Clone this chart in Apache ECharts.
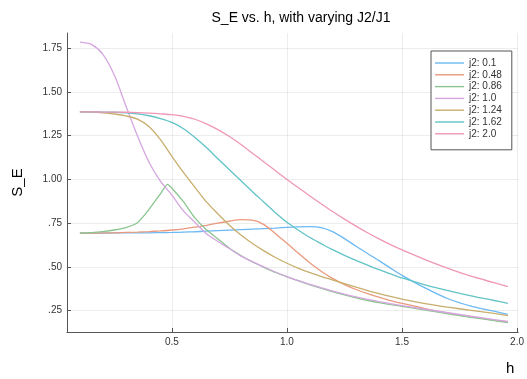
<!DOCTYPE html>
<html>
<head>
<meta charset="utf-8">
<script src="https://cdn.jsdelivr.net/npm/echarts@6/dist/echarts.min.js"></script>
<style>
  html, body { margin: 0; padding: 0; background: #fff; }
  #chart { width: 527px; height: 379px; }
</style>
</head>
<body>
<div id="chart"></div>
<script>
// Field values h at which the entropy was evaluated
const hValues = [0.1, 0.15, 0.2, 0.25, 0.3, 0.35, 0.4, 0.45, 0.5, 0.55, 0.6, 0.65, 0.7, 0.75,
  0.8, 0.85, 0.9, 0.95, 1.0, 1.05, 1.1, 1.15, 1.2, 1.25, 1.3, 1.35, 1.4, 1.45, 1.5,
  1.6, 1.7, 1.8, 1.9, 1.96];
// The j2 = 0.86 curve has an extra sample at its cusp
const hValuesJ2_086 = [0.1, 0.15, 0.2, 0.25, 0.3, 0.35, 0.4, 0.45, 0.48, 0.5, 0.55, 0.6, 0.65, 0.7, 0.75,
  0.8, 0.85, 0.9, 0.95, 1.0, 1.05, 1.1, 1.15, 1.2, 1.25, 1.3, 1.35, 1.4, 1.45, 1.5,
  1.6, 1.7, 1.8, 1.9, 1.96];

// S_E for each J2/J1 ratio
const sJ2_010 = [0.693, 0.693, 0.693, 0.694, 0.694, 0.695, 0.695, 0.696, 0.697, 0.699, 0.701, 0.704, 0.707, 0.710,
  0.713, 0.716, 0.719, 0.722, 0.726, 0.729, 0.730, 0.724, 0.700, 0.662, 0.618, 0.577, 0.536, 0.493, 0.452,
  0.380, 0.318, 0.276, 0.247, 0.229];
const sJ2_048 = [0.693, 0.693, 0.694, 0.695, 0.697, 0.699, 0.702, 0.706, 0.711, 0.718, 0.727, 0.738, 0.750, 0.761,
  0.770, 0.767, 0.742, 0.690, 0.635, 0.578, 0.522, 0.474, 0.433, 0.399, 0.371, 0.347, 0.327, 0.308, 0.292,
  0.262, 0.236, 0.214, 0.196, 0.186];
const sJ2_086 = [0.693, 0.696, 0.702, 0.711, 0.725, 0.753, 0.828, 0.918, 0.972, 0.950, 0.873, 0.780, 0.712, 0.660, 0.607,
  0.565, 0.528, 0.497, 0.468, 0.443, 0.420, 0.398, 0.378, 0.358, 0.340, 0.323, 0.308, 0.296, 0.285, 0.275,
  0.253, 0.232, 0.212, 0.193, 0.182];
const sJ2_100 = [1.785, 1.772, 1.715, 1.595, 1.420, 1.250, 1.100, 0.990, 0.910, 0.820, 0.755, 0.690, 0.645, 0.605,
  0.562, 0.530, 0.500, 0.471, 0.445, 0.421, 0.400, 0.380, 0.362, 0.345, 0.329, 0.315, 0.302, 0.290, 0.279,
  0.258, 0.238, 0.218, 0.199, 0.188];
const sJ2_124 = [1.386, 1.385, 1.381, 1.374, 1.363, 1.345, 1.303, 1.228, 1.132, 1.040, 0.955, 0.872, 0.803, 0.738,
  0.682, 0.634, 0.592, 0.554, 0.521, 0.492, 0.467, 0.445, 0.425, 0.405, 0.385, 0.365, 0.347, 0.331, 0.316,
  0.290, 0.270, 0.252, 0.234, 0.222];
const sJ2_162 = [1.386, 1.386, 1.385, 1.384, 1.381, 1.375, 1.364, 1.348, 1.326, 1.290, 1.240, 1.182, 1.118, 1.055,
  0.992, 0.930, 0.870, 0.810, 0.755, 0.710, 0.668, 0.632, 0.597, 0.566, 0.537, 0.510, 0.484, 0.460, 0.437,
  0.398, 0.365, 0.335, 0.308, 0.292];
const sJ2_200 = [1.386, 1.386, 1.385, 1.385, 1.384, 1.382, 1.379, 1.375, 1.370, 1.360, 1.344, 1.318, 1.285, 1.245,
  1.200, 1.150, 1.100, 1.050, 1.000, 0.952, 0.905, 0.860, 0.815, 0.773, 0.733, 0.695, 0.660, 0.627, 0.597,
  0.542, 0.492, 0.447, 0.410, 0.388];

const seriesNames = ['j2: 0.1', 'j2: 0.48', 'j2: 0.86', 'j2: 1.0', 'j2: 1.24', 'j2: 1.62', 'j2: 2.0'];
const seriesValues = [sJ2_010, sJ2_048, sJ2_086, sJ2_100, sJ2_124, sJ2_162, sJ2_200];
const seriesH = [hValues, hValues, hValuesJ2_086, hValues, hValues, hValues, hValues];
const seriesColors = ['#6cb9f3', '#e99a7e', '#8ac58f', '#d6a6e1', '#c8ae6c', '#62c3c6', '#ef97b6'];

// Axis ticks and their printed labels
const xTicks = [0.5, 1.0, 1.5, 2.0];
const xTickLabels = ['0.5', '1.0', '1.5', '2.0'];
const yTicks = [0.25, 0.5, 0.75, 1.0, 1.25, 1.5, 1.75];
const yTickLabels = ['.25', '.50', '.75', '1.00', '1.25', '1.50', '1.75'];

const chart = echarts.init(document.getElementById('chart'), null, { renderer: 'canvas' });

const font = 'Liberation Sans, Arial, Helvetica, sans-serif';

const series = seriesNames.map((name, i) => ({
  name: name,
  type: 'line',
  data: seriesH[i].map((h, k) => [h, seriesValues[i][k]]),
  showSymbol: false,
  symbol: 'none',
  smooth: i === 2 ? 0.15 : 0.3,
  lineStyle: { width: 1.3, color: seriesColors[i] },
  itemStyle: { color: seriesColors[i] },
  emphasis: { disabled: true },
  animation: false
}));

chart.setOption({
  animation: false,
  backgroundColor: '#ffffff',
  title: {
    text: 'S_E vs. h, with varying J2/J1',
    left: 296,
    textAlign: 'center',
    top: 6,
    textStyle: { fontFamily: font, fontSize: 14, fontWeight: 'normal', color: '#000' }
  },
  grid: { left: 67, right: 6, top: 33, bottom: 47, containLabel: false },
  legend: {
    orient: 'vertical',
    left: 431,
    top: 51,
    padding: [7, 10, 11, 4],
    itemWidth: 29,
    itemHeight: 8,
    itemGap: 1.8,
    borderColor: '#555',
    borderWidth: 1,
    backgroundColor: '#fff',
    icon: 'path://M0,4 L29,4 L29,5.4 L0,5.4 Z',
    textStyle: { fontFamily: font, fontSize: 10, color: '#333', lineHeight: 8 },
    data: seriesNames
  },
  xAxis: {
    type: 'value',
    min: 0.044,
    max: 2.005,
    axisLine: { show: true, lineStyle: { color: '#555', width: 1 } },
    axisTick: { show: true, inside: true, length: 4, customValues: xTicks, lineStyle: { color: '#555' } },
    axisLabel: {
      customValues: xTicks,
      margin: 5,
      fontFamily: font,
      fontSize: 10,
      color: '#333',
      formatter: v => xTickLabels[xTicks.findIndex(t => Math.abs(t - v) < 1e-6)] || ''
    },
    splitLine: { show: true, lineStyle: { color: 'rgba(0,0,0,0.07)', width: 1 } }
  },
  yAxis: {
    type: 'value',
    min: 0.128,
    max: 1.837,
    name: 'S_E',
    nameLocation: 'middle',
    nameRotate: 90,
    nameGap: 42,
    nameTextStyle: { fontFamily: font, fontSize: 15, color: '#000' },
    axisLine: { show: true, lineStyle: { color: '#555', width: 1 } },
    axisTick: { show: true, inside: true, length: 4, customValues: yTicks, lineStyle: { color: '#555' } },
    axisLabel: {
      customValues: yTicks,
      margin: 5,
      fontFamily: font,
      fontSize: 10,
      color: '#333',
      formatter: v => yTickLabels[yTicks.findIndex(t => Math.abs(t - v) < 1e-6)] || ''
    },
    splitLine: { show: true, lineStyle: { color: 'rgba(0,0,0,0.07)', width: 1 } }
  },
  graphic: [{
    type: 'text',
    left: 506,
    top: 361,
    style: { text: 'h', fontFamily: font, fontSize: 15, fill: '#000' }
  }],
  series: series
});
</script>
</body>
</html>
